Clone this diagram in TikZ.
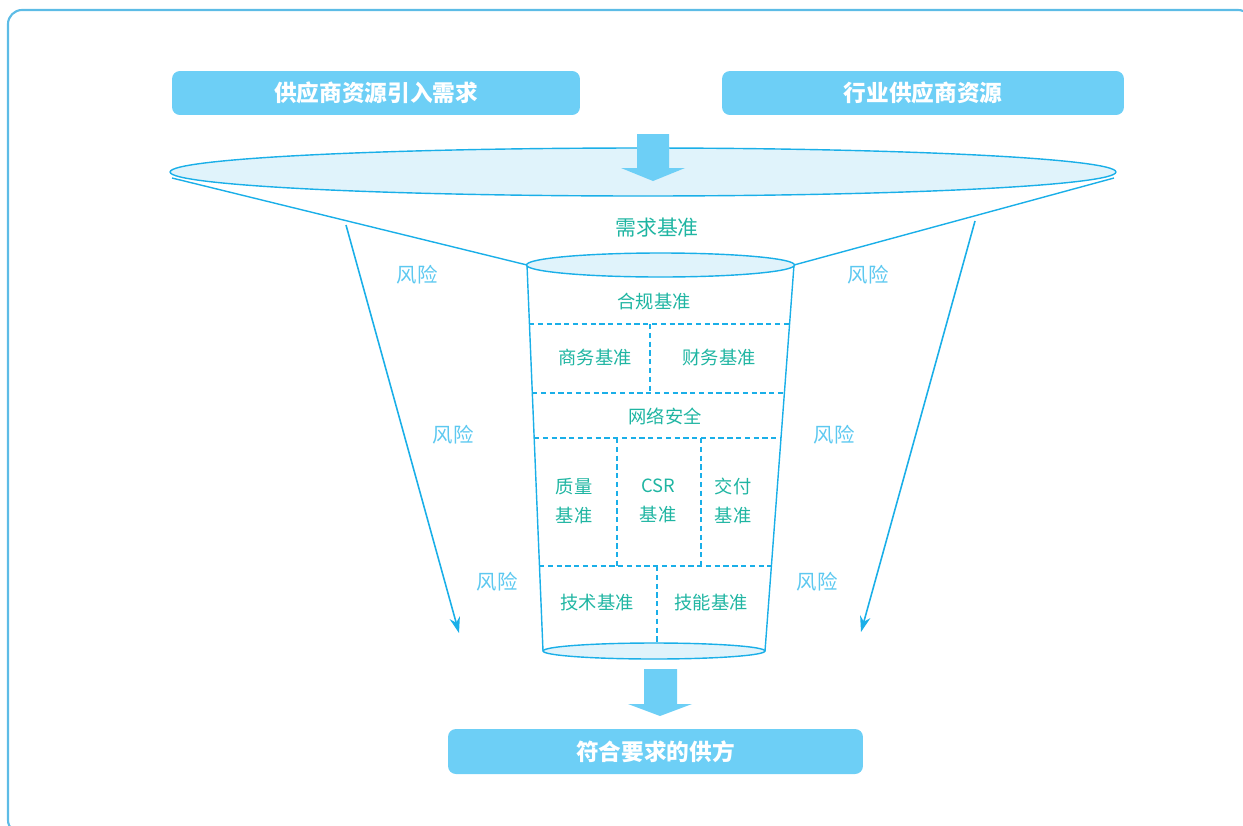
\documentclass[tikz,border=0pt]{standalone}
\usepackage{fontspec}
\setmainfont{Noto Sans CJK SC}
\usetikzlibrary{arrows.meta,shapes.geometric}

\definecolor{boxblue}{HTML}{6DCFF6}
\definecolor{lineblue}{HTML}{1AAFE8}
\definecolor{rimfill}{HTML}{E0F3FB}
\definecolor{critgreen}{HTML}{1FB5A2}
\definecolor{riskblue}{HTML}{5CC8F0}
\definecolor{framecol}{HTML}{5DBCE6}

\begin{document}
\begin{tikzpicture}[x=0.02cm,y=-0.02cm,
    headbox/.style={fill=boxblue,rounded corners=4.5pt,text=white,inner sep=0pt,
      font=\bfseries\fontsize{12.9}{15}\selectfont},
    crit/.style={text=critgreen,align=center,font=\fontsize{10.4}{16.4}\selectfont},
    risk/.style={text=riskblue,font=\fontsize{11.6}{14}\selectfont},
    rim/.style={ellipse,draw=lineblue,fill=rimfill,line width=0.8pt,inner sep=0pt},
    cellline/.style={draw=lineblue,line width=0.7pt,dash pattern=on 3pt off 2pt},
    riskarrow/.style={draw=lineblue,line width=0.9pt,-{Stealth[length=9pt,width=6pt]}}]
  \useasboundingbox (0,0) rectangle (1243,825);
  \clip (0,0) rectangle (1243,825);
  % outer frame, cut by the page edge
  \draw[framecol,line width=1.2pt,rounded corners=8pt] (8,10) rectangle (1252,834);

  % input boxes
  \node[headbox,minimum width=8.16cm,minimum height=0.88cm] (srcneed) at (376,93) {供应商资源引入需求};
  \node[headbox,minimum width=8.04cm,minimum height=0.88cm] (srcind) at (923,93) {行业供应商资源};

  % funnel rim and sides
  \coordinate (rimL) at (172,178);
  \coordinate (rimR) at (1114,178);
  \coordinate (cupTL) at (527,265);
  \coordinate (cupTR) at (794,265);
  \coordinate (cupBL) at (543,651);
  \coordinate (cupBR) at (765,651);
  \node[rim,minimum width=18.92cm,minimum height=0.96cm] (rim) at (643,172) {};
  \draw[lineblue,line width=0.8pt] (rimL) -- (cupTL);
  \draw[lineblue,line width=0.8pt] (rimR) -- (cupTR);

  % arrow into the funnel
  \fill[boxblue] (637,134) -- (669,134) -- (669,168) -- (685,168) -- (653,181)
    -- (621,168) -- (637,168) -- cycle;

  \node[crit,font=\fontsize{11.9}{14}\selectfont] (need) at (657,228) {需求基准};

  % cup
  \draw[lineblue,line width=0.8pt] (cupTL) -- (cupBL);
  \draw[lineblue,line width=0.8pt] (cupTR) -- (cupBR);
  \node[rim,minimum width=5.36cm,minimum height=0.48cm] (cuptop) at (660.5,265) {};
  \node[rim,minimum width=4.44cm,minimum height=0.32cm] (cupbot) at (654,651) {};

  % cells
  \draw[cellline] (529,324) -- (790,324);
  \draw[cellline] (650,324) -- (650,393);
  \draw[cellline] (532,393) -- (785,393);
  \draw[cellline] (534,438) -- (781,438);
  \draw[cellline] (617,438) -- (617,566);
  \draw[cellline] (701,438) -- (701,566);
  \draw[cellline] (539,566) -- (771,566);
  \draw[cellline] (657,566) -- (657,645);

  \node[crit] (comply) at (654,302) {合规基准};
  \node[crit] (business) at (595,358) {商务基准};
  \node[crit] (finance) at (719,358) {财务基准};
  \node[crit] (cyber) at (665,416) {网络安全};
  \node[crit] (quality) at (574,501) {质量\\基准};
  \node[crit] (csr) at (658,501) {CSR\\基准};
  \node[crit] (deliver) at (733,501) {交付\\基准};
  \node[crit] (tech) at (597,603) {技术基准};
  \node[crit] (skill) at (711,603) {技能基准};

  % risks
  \coordinate (riskLs) at (346,225);
  \coordinate (riskLe) at (459,633);
  \coordinate (riskRs) at (975,221);
  \coordinate (riskRe) at (861,632);
  \draw[riskarrow] (riskLs) -- (riskLe);
  \draw[riskarrow] (riskRs) -- (riskRe);
  \node[risk] (riskL1) at (417,275) {风险};
  \node[risk] (riskL2) at (453,435) {风险};
  \node[risk] (riskL3) at (497,582) {风险};
  \node[risk] (riskR1) at (868,275) {风险};
  \node[risk] (riskR2) at (834,435) {风险};
  \node[risk] (riskR3) at (817,582) {风险};

  % output
  \fill[boxblue] (644,669) -- (677,669) -- (677,704) -- (692,704) -- (660,716)
    -- (628,704) -- (644,704) -- cycle;
  \node[headbox,minimum width=8.3cm,minimum height=0.9cm] (qualified) at (655.5,751.5) {符合要求的供方};
\end{tikzpicture}
\end{document}
